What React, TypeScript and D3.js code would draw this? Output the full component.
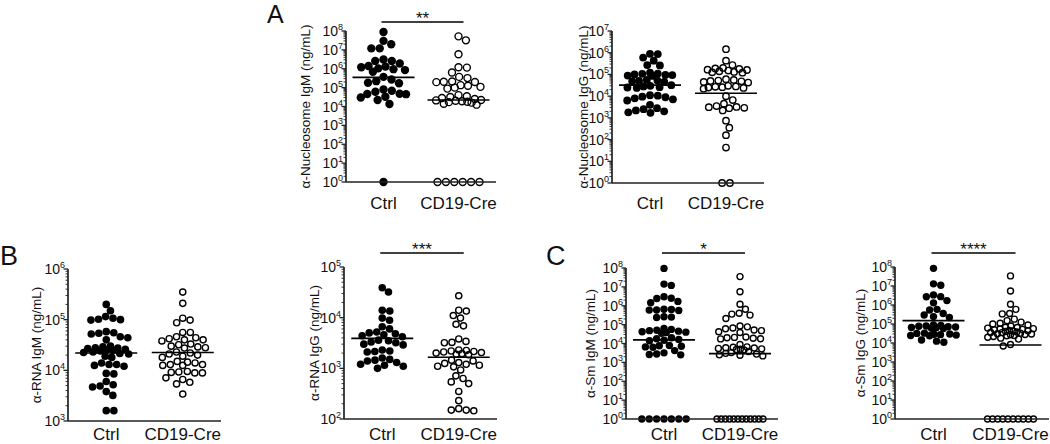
import React from "react";
import * as d3 from "d3";

const categories = ["Ctrl", "CD19-Cre"];

// α-Nucleosome IgM (ng/mL)
const nucIgmCtrl = [8.9e7, 3.0e7, 2.0e7, 1.2e7, 1.2e7, 3.1e6, 2.6e6, 2.6e6, 1.9e6, 1.4e6, 1.3e6, 1.2e6, 1.05e6, 9.5e5, 8.5e5, 6.9e5, 3.7e5, 2.7e5, 2.2e5, 1.8e5, 1.7e5, 7.9e4, 6.8e4, 6.0e4, 4.6e4, 4.5e4, 4.7e4, 3.3e4, 3.0e4, 2.2e4, 1.35e4, 1];
const nucIgmCre = [5.2e7, 3.2e7, 5.9e6, 1.2e6, 1.15e6, 6.3e5, 3.7e5, 3.2e5, 2.1e5, 2.0e5, 2.05e5, 1.95e5, 1.35e5, 1.25e5, 1.1e5, 1.0e5, 8.9e4, 4.0e4, 3.5e4, 3.2e4, 2.8e4, 2.5e4, 2.2e4, 2.1e4, 2.0e4, 1.9e4, 1.8e4, 1.6e4, 1.4e4, 1.25e4, 1.7e4, 1, 1, 1, 1, 1, 1];
const nucIgmLines = [3.5e5, 2.2e4];

// α-Nucleosome IgG (ng/mL)
const nucIggCtrl = [8.9e5, 8.7e5, 6.0e5, 4.3e5, 2.7e5, 2.6e5, 1.2e5, 1.1e5, 1.07e5, 1.0e5, 9.5e4, 9.3e4, 8.9e4, 8.5e4, 5.6e4, 5.2e4, 5.0e4, 4.8e4, 4.5e4, 3.2e4, 3.0e4, 2.8e4, 2.6e4, 2.5e4, 2.4e4, 1.1e4, 1.05e4, 9.5e3, 8.9e3, 7.9e3, 7.1e3, 6.3e3, 4.0e3, 2.8e3, 2.5e3, 2.2e3, 2.0e3, 1.8e3, 1.7e3];
const nucIggCre = [1.45e6, 4.3e5, 2.7e5, 2.0e5, 1.9e5, 1.8e5, 1.65e5, 1.6e5, 1.5e5, 1.4e5, 1.3e5, 1.25e5, 1.2e5, 6.0e4, 5.6e4, 5.2e4, 5.0e4, 4.8e4, 4.5e4, 4.2e4, 3.0e4, 2.8e4, 2.7e4, 2.6e4, 2.5e4, 2.4e4, 2.2e4, 1.0e4, 6.6e3, 4.5e3, 3.5e3, 3.2e3, 2.8e3, 2.9e3, 3.1e3, 2.2e3, 7.4e2, 3.5e2, 1.6e2, 43, 1, 1];
const nucIggLines = [3.2e4, 1.35e4];

// α-RNA IgM (ng/mL)
const rnaIgmCtrl = [2.0e5, 1.5e5, 1.15e5, 1.07e5, 1.02e5, 1.0e5, 9.8e4, 5.8e4, 5.5e4, 5.4e4, 5.2e4, 4.6e4, 4.4e4, 4.0e4, 3.0e4, 2.9e4, 2.8e4, 2.75e4, 2.7e4, 2.6e4, 2.55e4, 2.5e4, 2.4e4, 2.3e4, 2.25e4, 2.15e4, 2.1e4, 1.9e4, 1.8e4, 1.4e4, 1.3e4, 1.3e4, 1.25e4, 1.2e4, 8.7e3, 8.5e3, 6.0e3, 5.2e3, 4.9e3, 4.7e3, 3.8e3, 3.2e3, 1.6e3, 1.6e3];
const rnaIgmCre = [3.5e5, 2.1e5, 1.07e5, 9.8e4, 8.7e4, 5.6e4, 5.6e4, 4.6e4, 4.4e4, 4.2e4, 4.0e4, 4.0e4, 3.8e4, 3.3e4, 3.2e4, 3.0e4, 2.9e4, 2.8e4, 2.75e4, 2.3e4, 2.2e4, 2.1e4, 2.0e4, 1.9e4, 1.8e4, 1.5e4, 1.45e4, 1.4e4, 1.3e4, 1.3e4, 1.25e4, 1.25e4, 9.5e3, 9.3e3, 9.1e3, 8.9e3, 8.9e3, 7.1e3, 6.6e3, 5.8e3, 5.4e3, 3.4e3];
const rnaIgmLines = [2.2e4, 2.25e4];

// α-RNA IgG (ng/mL)
const rnaIggCtrl = [3.9e4, 3.2e4, 1.4e4, 1.35e4, 9.8e3, 8.9e3, 6.6e3, 6.0e3, 5.2e3, 5.0e3, 4.8e3, 4.6e3, 4.4e3, 4.2e3, 3.6e3, 3.5e3, 3.3e3, 3.2e3, 3.0e3, 2.9e3, 2.3e3, 2.2e3, 2.15e3, 2.1e3, 1.6e3, 1.5e3, 1.45e3, 1.4e3, 1.3e3, 1.2e3, 1.15e3, 1.1e3, 1.0e3];
const rnaIggCre = [2.7e4, 1.4e4, 1.35e4, 1.1e4, 9.8e3, 7.4e3, 6.9e3, 3.8e3, 3.4e3, 3.2e3, 3.25e3, 2.3e3, 2.25e3, 2.2e3, 2.15e3, 2.1e3, 2.05e3, 2.0e3, 1.95e3, 1.9e3, 1.85e3, 1.45e3, 1.4e3, 1.3e3, 1.25e3, 1.2e3, 1.15e3, 1.1e3, 1.07e3, 9.3e2, 7.1e2, 6.3e2, 5.4e2, 5.0e2, 3.5e2, 2.3e2, 1.6e2, 1.5e2, 1.5e2, 1.45e2];
const rnaIggLines = [3.9e3, 1.65e3];

// α-Sm IgM (ng/mL)
const smIgmCtrl = [9.5e7, 1.4e7, 1.2e7, 3.0e6, 2.5e6, 2.4e6, 1.7e6, 1.45e6, 6.5e5, 6.3e5, 6.0e5, 5.9e5, 5.6e5, 2.6e5, 2.5e5, 2.4e5, 6.3e4, 5.6e4, 5.0e4, 4.8e4, 4.5e4, 4.2e4, 4.0e4, 3.8e4, 3.5e4, 2.0e4, 1.8e4, 1.65e4, 1.5e4, 1.4e4, 7.9e3, 7.6e3, 7.1e3, 6.6e3, 6.3e3, 4.2e3, 3.2e3, 2.8e3, 2.6e3, 2.5e3, 1, 1, 1, 1, 1, 1, 1];
const smIgmCre = [3.5e7, 5.5e6, 1.2e6, 6.5e5, 4.0e5, 3.6e5, 3.2e5, 2.1e5, 8.5e4, 7.6e4, 6.6e4, 6.0e4, 5.2e4, 4.8e4, 4.2e4, 3.8e4, 2.2e4, 2.1e4, 2.0e4, 1.9e4, 1.8e4, 1.75e4, 8.9e3, 6.6e3, 6.3e3, 6.0e3, 5.8e3, 5.5e3, 5.2e3, 5.0e3, 4.8e3, 4.6e3, 3.8e3, 3.3e3, 3.0e3, 2.75e3, 2.5e3, 2.4e3, 2.2e3, 1, 1, 1, 1, 1, 1, 1, 1, 1, 1, 1, 1];
const smIgmLines = [1.55e4, 2.9e3];

// α-Sm IgG (ng/mL)
const smIggCtrl = [8.5e7, 1.3e7, 1.1e7, 3.4e6, 2.75e6, 2.7e6, 1.7e6, 1.3e6, 5.9e5, 5.5e5, 3.6e5, 3.0e5, 2.45e5, 2.2e5, 8.9e4, 8.3e4, 7.9e4, 7.6e4, 7.2e4, 6.9e4, 6.6e4, 6.3e4, 6.0e4, 5.8e4, 3.3e4, 3.2e4, 3.0e4, 2.9e4, 2.75e4, 2.6e4, 2.5e4, 2.4e4, 1.45e4, 1.25e4, 1.1e4];
const smIggCre = [3.4e7, 5.5e6, 1.1e6, 5.9e5, 3.6e5, 3.4e5, 1.8e5, 1.5e5, 1.25e5, 1.1e5, 1.0e5, 8.9e4, 7.9e4, 6.8e4, 6.5e4, 6.1e4, 5.7e4, 5.5e4, 5.2e4, 5.0e4, 4.6e4, 4.4e4, 4.3e4, 4.0e4, 3.8e4, 3.6e4, 3.5e4, 3.3e4, 3.1e4, 3.0e4, 2.8e4, 2.7e4, 2.5e4, 2.4e4, 2.2e4, 2.0e4, 1.8e4, 1.6e4, 8.3e3, 7.0e3, 1, 1, 1, 1, 1, 1, 1, 1, 1, 1];
const smIggLines = [1.5e5, 7.8e3];

const FONT = "'Liberation Sans', Arial, Helvetica, sans-serif";

type PanelDef = {
  title: string;
  ctrl: number[];
  cre: number[];
  lines: number[];
  domain: [number, number];
  left: number;
  right: number;
  top: number;
  bottom: number;
  r: number;
  titleX: number;
  catY: number;
  sig?: string;
  sigY?: number;
};

const panels: PanelDef[] = [
  { title: "α-Nucleosome IgM (ng/mL)", ctrl: nucIgmCtrl, cre: nucIgmCre, lines: nucIgmLines, domain: [1, 1e8], left: 346, right: 496, top: 31, bottom: 182, r: 4.2, titleX: 310, catY: 209, sig: "**", sigY: 22 },
  { title: "α-Nucleosome IgG (ng/mL)", ctrl: nucIggCtrl, cre: nucIggCre, lines: nucIggLines, domain: [1, 1e7], left: 612, right: 764, top: 31, bottom: 183, r: 3.9, titleX: 588, catY: 209 },
  { title: "α-RNA IgM (ng/mL)", ctrl: rnaIgmCtrl, cre: rnaIgmCre, lines: rnaIgmLines, domain: [1e3, 1e6], left: 68, right: 221, top: 269, bottom: 421, r: 3.8, titleX: 41, catY: 440 },
  { title: "α-RNA IgG (ng/mL)", ctrl: rnaIggCtrl, cre: rnaIggCre, lines: rnaIggLines, domain: [1e2, 1e5], left: 344, right: 497, top: 267, bottom: 419, r: 3.8, titleX: 319, catY: 440, sig: "***", sigY: 253 },
  { title: "α-Sm IgM (ng/mL)", ctrl: smIgmCtrl, cre: smIgmCre, lines: smIgmLines, domain: [1, 1e8], left: 626, right: 778, top: 268, bottom: 419, r: 3.7, titleX: 595, catY: 440, sig: "*", sigY: 253 },
  { title: "α-Sm IgG (ng/mL)", ctrl: smIggCtrl, cre: smIggCre, lines: smIggLines, domain: [1, 1e8], left: 895, right: 1049, top: 267, bottom: 419, r: 3.7, titleX: 865, catY: 440, sig: "****", sigY: 253 },
];

function swarm(ys: number[], r: number, maxHalf: number, floorY: number): number[] {
  const dx = new Array(ys.length).fill(0);
  const order = ys.map((_, i) => i).sort((a, b) => ys[a] - ys[b]);
  const floorIdx = order.filter((i) => Math.abs(ys[i] - floorY) < 0.01);
  const rest = order.filter((i) => Math.abs(ys[i] - floorY) >= 0.01);
  const placed: { x: number; y: number }[] = [];
  for (const i of rest) {
    const y = ys[i];
    let chosen: number | null = null;
    for (const s of [1, 0.88, 0.76, 0.64, 0.52, 0.4]) {
      const D = 2 * r * s;
      const forb: [number, number][] = [];
      for (const p of placed) {
        const dy = Math.abs(p.y - y);
        if (dy < D) {
          const w = Math.sqrt(D * D - dy * dy);
          forb.push([p.x - w, p.x + w]);
        }
      }
      const cands = [0];
      for (const [a, b] of forb) cands.push(a, b);
      cands.sort((u, v) => Math.abs(u) - Math.abs(v) || v - u);
      let best: number | null = null;
      for (const c of cands) {
        if (forb.every(([a, b]) => c <= a + 1e-6 || c >= b - 1e-6)) {
          best = c;
          break;
        }
      }
      if (best !== null && Math.abs(best) <= maxHalf) {
        chosen = best;
        break;
      }
    }
    if (chosen === null) chosen = (placed.length % 2 ? -1 : 1) * maxHalf;
    dx[i] = chosen;
    placed.push({ x: chosen, y });
  }
  const n = floorIdx.length;
  if (n > 0) {
    const step = n > 1 ? Math.min(2 * r, (2 * maxHalf) / (n - 1)) : 0;
    floorIdx.forEach((i, k) => {
      dx[i] = (k - (n - 1) / 2) * step;
    });
  }
  return dx;
}

function Panel({ p }: { p: PanelDef }) {
  const y = d3.scaleLog().domain(p.domain).range([p.bottom, p.top]);
  const x = d3.scalePoint<string>().domain(categories).range([p.left, p.right]).padding(0.5);
  const lo = Math.round(Math.log10(p.domain[0]));
  const hi = Math.round(Math.log10(p.domain[1]));
  const majors = d3.range(lo, hi + 1);
  const minors: number[] = [];
  for (let k = lo; k < hi; k++) for (let m = 2; m <= 9; m++) minors.push(m * Math.pow(10, k));
  const floorY = y(p.domain[0]);
  const groups = [p.ctrl, p.cre];
  const maxHalf = 23;
  const cx0 = x(categories[0])!;
  const cx1 = x(categories[1])!;
  return (
    <g>
      {groups.map((vals, gi) => {
        const ys = vals.map((v) => y(Math.max(v, p.domain[0])));
        const dxs = swarm(ys, p.r, maxHalf, floorY);
        const cx = x(categories[gi])!;
        return (
          <g key={gi}>
            {ys.map((yy, i) =>
              gi === 0 ? (
                <circle key={i} cx={cx + dxs[i]} cy={yy} r={p.r} fill="#000" />
              ) : (
                <circle key={i} cx={cx + dxs[i]} cy={yy} r={p.r - 0.7} fill="none" stroke="#000" strokeWidth={1.4} />
              )
            )}
          </g>
        );
      })}
      {p.lines.map((v, gi) => {
        const cx = x(categories[gi])!;
        return <line key={gi} x1={cx - 31} x2={cx + 31} y1={y(v)} y2={y(v)} stroke="#000" strokeWidth={1.6} />;
      })}
      {/* y axis */}
      <line x1={p.left} x2={p.left} y1={p.top} y2={p.bottom} stroke="#222" strokeWidth={1.7} />
      {minors.map((v, i) => (
        <line key={"m" + i} x1={p.left - 2.5} x2={p.left} y1={y(v)} y2={y(v)} stroke="#222" strokeWidth={0.9} />
      ))}
      {majors.map((k) => (
        <g key={"M" + k}>
          <line x1={p.left - 4.5} x2={p.left} y1={y(Math.pow(10, k))} y2={y(Math.pow(10, k))} stroke="#222" strokeWidth={1.3} />
          <text x={p.left - 3} y={y(Math.pow(10, k)) + 5} textAnchor="end" fontSize={14} fontFamily={FONT} fill="#111">
            10<tspan fontSize={9} dy={-6}>{k}</tspan>
          </text>
        </g>
      ))}
      {/* x axis */}
      <line x1={p.left} x2={p.right} y1={p.bottom} y2={p.bottom} stroke="#222" strokeWidth={1.7} />
      {categories.map((c) => (
        <text key={c} x={x(c)!} y={p.catY} textAnchor="middle" fontSize={17} fontFamily={FONT} fill="#111">
          {c}
        </text>
      ))}
      <text
        transform={`translate(${p.titleX},${(p.top + p.bottom) / 2}) rotate(-90)`}
        textAnchor="middle"
        fontSize={13.5}
        fontFamily={FONT}
        fill="#111"
      >
        {p.title}
      </text>
      {p.sig && p.sigY !== undefined && (
        <g>
          <line x1={cx0 - 2} x2={cx1 + 5} y1={p.sigY} y2={p.sigY} stroke="#000" strokeWidth={1.3} />
          <text x={(cx0 + cx1) / 2 + 1.5} y={p.sigY + 1.5} textAnchor="middle" fontSize={17} fontFamily={FONT} fill="#111">
            {p.sig}
          </text>
        </g>
      )}
    </g>
  );
}

export default function App() {
  return (
    <>
      <style>{`html,body{margin:0;padding:0;background:#fff;}`}</style>
      <svg width={1050} height={444} viewBox="0 0 1050 444" style={{ display: "block" }}>
        <rect width={1050} height={444} fill="#fff" />
        <text x={267} y={23} fontSize={25} fontFamily={FONT} fill="#111">A</text>
        <text x={0} y={265} fontSize={27} fontFamily={FONT} fill="#111">B</text>
        <text x={546} y={265} fontSize={27} fontFamily={FONT} fill="#111">C</text>
        {panels.map((p, i) => (
          <Panel key={i} p={p} />
        ))}
      </svg>
    </>
  );
}
